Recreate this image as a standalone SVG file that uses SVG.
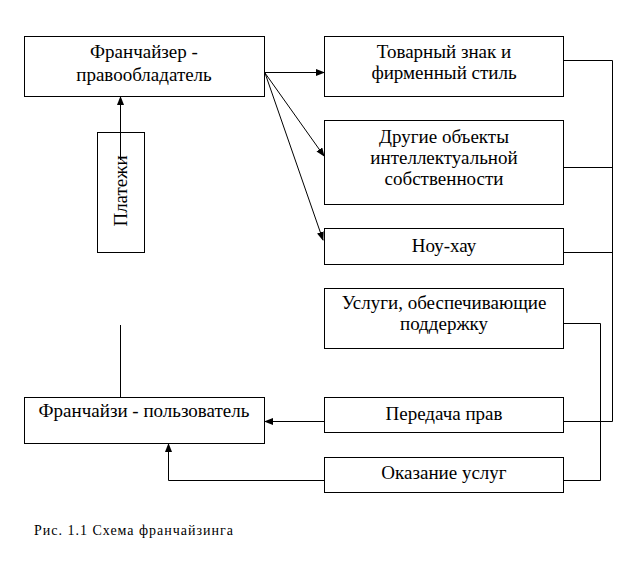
<svg xmlns="http://www.w3.org/2000/svg" width="637" height="577" viewBox="0 0 637 577">
<style>
.box{fill:none;stroke:#000;stroke-width:1}
.t{font-size:19px;fill:#000;text-anchor:middle}
.c{fill:none;stroke:#000;stroke-width:1}
</style>
<defs>
<marker id="ah" markerWidth="9" markerHeight="7" refX="8" refY="3.5" orient="auto" markerUnits="userSpaceOnUse">
<path d="M0,0 L9,3.5 L0,7 Z" fill="#000"/>
</marker>
</defs>
<rect width="637" height="577" fill="#fff"/>
<g font-family="Liberation Serif">
<g id="franchisor"><rect class="box" x="24.5" y="36.5" width="240" height="60"/>
<text class="t" x="144" y="58">Франчайзер -</text><text class="t" x="144" y="81">правообладатель</text></g>
<g id="trademark"><rect class="box" x="324.5" y="36.5" width="239" height="60"/>
<text class="t" x="444" y="58">Товарный знак и</text><text class="t" x="444" y="79">фирменный стиль</text></g>
<g id="other"><rect class="box" x="324.5" y="120.5" width="239" height="84"/>
<text class="t" x="444" y="143">Другие объекты</text><text class="t" x="444" y="164">интеллектуальной</text><text class="t" x="444" y="185">собственности</text></g>
<g id="knowhow"><rect class="box" x="324.5" y="228.5" width="239" height="36"/>
<text class="t" x="444" y="252">Ноу-хау</text></g>
<g id="support"><rect class="box" x="324.5" y="288.5" width="239" height="60"/>
<text class="t" x="444" y="309">Услуги, обеспечивающие</text><text class="t" x="444" y="330">поддержку</text></g>
<g id="rights"><rect class="box" x="324.5" y="397.5" width="239" height="35"/>
<text class="t" x="444" y="420">Передача прав</text></g>
<g id="services"><rect class="box" x="324.5" y="457.5" width="239" height="35"/>
<text class="t" x="444" y="479">Оказание услуг</text></g>
<g id="franchisee"><rect class="box" x="24.5" y="397.5" width="240" height="46"/>
<text class="t" x="144" y="417">Франчайзи - пользователь</text></g>
<g id="payments"><rect class="box" x="97.5" y="132.5" width="47" height="120"/>
<text class="t" transform="translate(127,191) rotate(-90)" x="0" y="0">Платежи</text></g>
<text x="34" y="535" font-size="14" textLength="199" lengthAdjust="spacing">Рис. 1.1 Схема франчайзинга</text>
</g>
<g id="connectors">
<line class="c" x1="265" y1="72.5" x2="324" y2="72.5" marker-end="url(#ah)"/>
<line class="c" x1="265" y1="73" x2="324" y2="156" marker-end="url(#ah)"/>
<line class="c" x1="265" y1="73" x2="323" y2="240" marker-end="url(#ah)"/>
<polyline class="c" points="564,60.5 612.5,60.5 612.5,421.5 564,421.5"/>
<line class="c" x1="564" y1="167.5" x2="612.5" y2="167.5"/>
<line class="c" x1="564" y1="252.5" x2="612.5" y2="252.5"/>
<polyline class="c" points="564,323.5 600.5,323.5 600.5,480.5 564,480.5"/>
<line class="c" x1="324" y1="421.5" x2="265" y2="421.5" marker-end="url(#ah)"/>
<polyline class="c" points="324,480.5 168.5,480.5 168.5,444" marker-end="url(#ah)"/>
<line class="c" x1="120.5" y1="160" x2="120.5" y2="97" marker-end="url(#ah)"/>
<line class="c" x1="120.5" y1="397" x2="120.5" y2="325"/>
</g>
</svg>
